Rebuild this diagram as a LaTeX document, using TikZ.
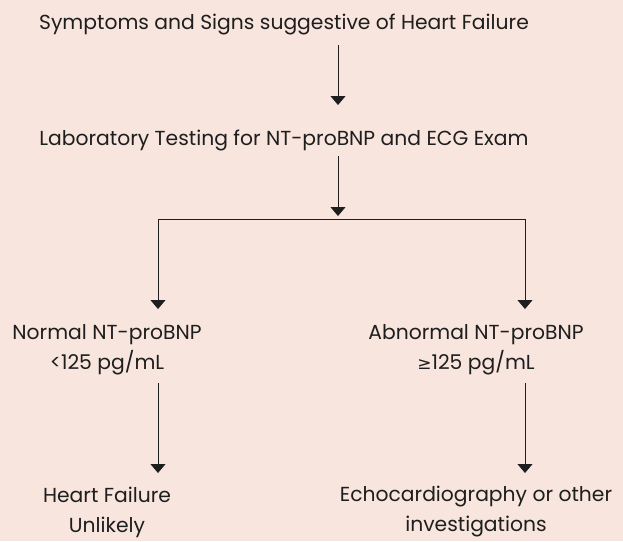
\documentclass[tikz,border=0pt]{standalone}
\usepackage{fontspec}
\setmainfont{Poppins}
\newfontfamily\symfont{DejaVu Sans}
\usetikzlibrary{arrows.meta}
\definecolor{bgpink}{RGB}{248,229,222}
\definecolor{ink}{RGB}{30,30,30}
\begin{document}
\begin{tikzpicture}[x=1pt,y=-1pt,
  txt/.style={font=\fontsize{20.3}{30}\selectfont, text=ink, align=center, inner sep=0pt},
  arr/.style={draw=ink, line width=0.85pt, -{Triangle[width=15pt,length=9pt]}},
  ln/.style={draw=ink, line width=0.85pt}]
\fill[bgpink] (0,0) rectangle (623,541);
\useasboundingbox (0,0) rectangle (623,541);
\node[txt] (sym) at (284,24) {Symptoms and Signs suggestive of Heart Failure};
\node[txt] (lab) at (284,140) {Laboratory Testing for NT-proBNP and ECG Exam};
\node[txt] (norm) at (107,350) {Normal NT-proBNP\\<125 pg/mL};
\node[txt] (abn) at (476,350) {Abnormal NT-proBNP\\{\symfont\fontsize{17}{30}\selectfont ≥}125 pg/mL};
\node[txt] (hf) at (107,512) {Heart Failure\\Unlikely};
\node[txt] (echo) at (476,512) {Echocardiography or other\\investigations};
\coordinate (a1s) at (338,45);
\coordinate (a1e) at (338,105);
\coordinate (a2s) at (338,156);
\coordinate (a2e) at (338,216);
\coordinate (hl) at (158,219);
\coordinate (hr) at (525,219);
\coordinate (ltip) at (158,309);
\coordinate (rtip) at (525,309);
\coordinate (l2s) at (158,383);
\coordinate (l2e) at (158,473);
\coordinate (r2s) at (525,383);
\coordinate (r2e) at (525,473);
\draw[arr] (a1s) -- (a1e);
\draw[arr] (a2s) -- (a2e);
\draw[ln] (hl) -- (hr);
\draw[arr] (hl) -- (ltip);
\draw[arr] (hr) -- (rtip);
\draw[arr] (l2s) -- (l2e);
\draw[arr] (r2s) -- (r2e);
\end{tikzpicture}
\end{document}
